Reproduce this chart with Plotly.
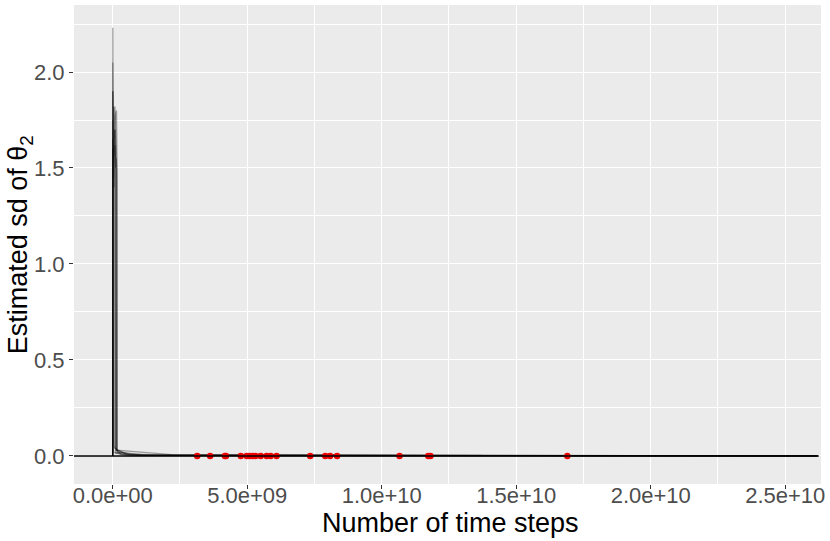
import plotly.graph_objects as go

# ---- data ----
# x tick values / labels
x_tick_vals = [0, 5e9, 1e10, 1.5e10, 2e10, 2.5e10]
x_tick_labels = ["0.0e+00", "5.0e+09", "1.0e+10", "1.5e+10", "2.0e+10", "2.5e+10"]
y_tick_vals = [0.0, 0.5, 1.0, 1.5, 2.0]
y_tick_labels = ["0.0", "0.5", "1.0", "1.5", "2.0"]

# estimated sd traces (time steps, sd)
chain_a_x = [0, 0.002e9, 0.004e9, 0.008e9, 0.012e9, 0.02e9, 0.04e9, 0.3e9, 1.0e9, 26.2e9]
chain_a_y = [0, 2.23, 1.90, 1.70, 1.20, 0.60, 0.05, 0.010, 0.003, 0]
chain_b_x = [0, 0.003e9, 0.01e9, 0.02e9, 0.04e9, 0.06e9, 0.08e9, 0.5e9, 1.5e9, 26.2e9]
chain_b_y = [0, 2.05, 1.85, 1.70, 1.75, 1.60, 0.04, 0.008, 0.003, 0]
chain_c_x = [0, 0.005e9, 0.02e9, 0.05e9, 0.08e9, 0.10e9, 0.12e9, 0.13e9, 0.6e9, 2.2e9, 26.2e9]
chain_c_y = [0, 1.90, 1.80, 1.75, 1.82, 1.70, 1.60, 0.03, 0.010, 0.004, 0]
chain_d_x = [0, 0.004e9, 0.03e9, 0.06e9, 0.10e9, 0.14e9, 0.16e9, 0.17e9, 1.2e9, 26.2e9]
chain_d_y = [0, 1.70, 1.82, 1.65, 1.78, 1.80, 1.50, 0.02, 0.006, 0]
chain_e_x = [0, 0.005e9, 0.03e9, 0.07e9, 0.11e9, 0.13e9, 0.15e9, 0.16e9, 1.0e9, 26.2e9]
chain_e_y = [0, 1.60, 1.45, 1.70, 1.50, 1.55, 1.48, 0.02, 0.004, 0]
chain_f_x = [0, 0.003e9, 0.01e9, 0.03e9, 0.05e9, 0.09e9, 0.11e9, 0.8e9, 26.2e9]
chain_f_y = [0, 1.75, 1.50, 1.65, 1.40, 1.62, 0.015, 0.003, 0]
chain_g_x = [0, 0.002e9, 0.01e9, 0.02e9, 0.03e9, 0.5e9, 26.2e9]
chain_g_y = [0, 1.90, 1.30, 0.90, 0.02, 0.002, 0]
chain_h_x = [0, 0.004e9, 0.02e9, 0.06e9, 0.09e9, 0.12e9, 0.13e9, 2.3e9, 26.2e9]
chain_h_y = [0, 1.65, 1.55, 1.60, 1.70, 1.52, 0.03, 0.006, 0]

chains = [
    (chain_a_x, chain_a_y), (chain_b_x, chain_b_y), (chain_c_x, chain_c_y),
    (chain_d_x, chain_d_y), (chain_e_x, chain_e_y), (chain_f_x, chain_f_y),
    (chain_g_x, chain_g_y), (chain_h_x, chain_h_y),
]

# convergence points (red dots)
conv_x = [3.14e9, 3.62e9, 4.17e9, 4.21e9, 4.76e9, 4.98e9, 5.09e9, 5.20e9, 5.31e9,
          5.50e9, 5.72e9, 5.87e9, 6.09e9, 7.34e9, 7.90e9, 8.08e9, 8.34e9,
          10.66e9, 11.73e9, 11.81e9, 16.90e9]
conv_y = [0.0] * len(conv_x)

fig = go.Figure()
for cx, cy in chains:
    fig.add_trace(go.Scatter(x=cx, y=cy, mode="lines",
                             line=dict(color="rgba(0,0,0,0.35)", width=1.3),
                             showlegend=False, hoverinfo="skip"))

fig.add_trace(go.Scatter(x=conv_x, y=conv_y, mode="markers",
                         marker=dict(color="#EE0000", size=6.5, line=dict(width=0)),
                         showlegend=False))

fig.add_shape(type="line", xref="paper", yref="y", x0=0, x1=0.997, y0=0, y1=0,
              line=dict(color="black", width=1.5), layer="above")

L, R, T, B = 74, 5, 5, 57
W, H = 830, 541
pw, ph = W - L - R, H - T - B

font_family = "Liberation Sans, Arial, sans-serif"
fig.update_layout(
    width=W, height=H,
    margin=dict(l=L, r=R, t=T, b=B),
    paper_bgcolor="white",
    plot_bgcolor="#EBEBEB",
    font=dict(family=font_family, color="black"),
    xaxis=dict(
        range=[-1.44e9, 26.33e9],
        tickvals=x_tick_vals, ticktext=x_tick_labels,
        showgrid=True, gridcolor="white", gridwidth=1.2,
        minor=dict(tickvals=[2.5e9, 7.5e9, 12.5e9, 17.5e9, 22.5e9],
                   showgrid=True, gridcolor="white", gridwidth=0.6, ticks=""),
        ticks="outside", ticklen=4, tickcolor="#333333", tickwidth=1,
        ticklabelstandoff=-12,
        tickfont=dict(size=22, color="#4D4D4D"),
        zeroline=False, showline=False,
    ),
    yaxis=dict(
        range=[-0.146, 2.349],
        tickvals=y_tick_vals, ticktext=y_tick_labels,
        showgrid=True, gridcolor="white", gridwidth=1.2,
        minor=dict(tickvals=[0.25, 0.75, 1.25, 1.75, 2.25],
                   showgrid=True, gridcolor="white", gridwidth=0.6, ticks=""),
        ticks="outside", ticklen=4, tickcolor="#333333", tickwidth=1,
        tickfont=dict(size=22, color="#4D4D4D"),
        zeroline=False, showline=False,
    ),
    annotations=[
        dict(text="Number of time steps", xref="paper", yref="paper",
             x=(453 - L) / pw, y=(H - B - 523) / ph, xanchor="center", yanchor="middle",
             showarrow=False, font=dict(size=27, color="black")),
        dict(text="Estimated sd of θ<sub>2</sub>", xref="paper", yref="paper",
             x=(20 - L) / pw, y=(H - B - 245) / ph, xanchor="center", yanchor="middle",
             textangle=-90, showarrow=False, font=dict(size=27, color="black")),
    ],
)

fig.write_html("out.html", config={"displayModeBar": False},
               post_script="document.body.style.margin='0px';document.body.style.padding='0px';")
